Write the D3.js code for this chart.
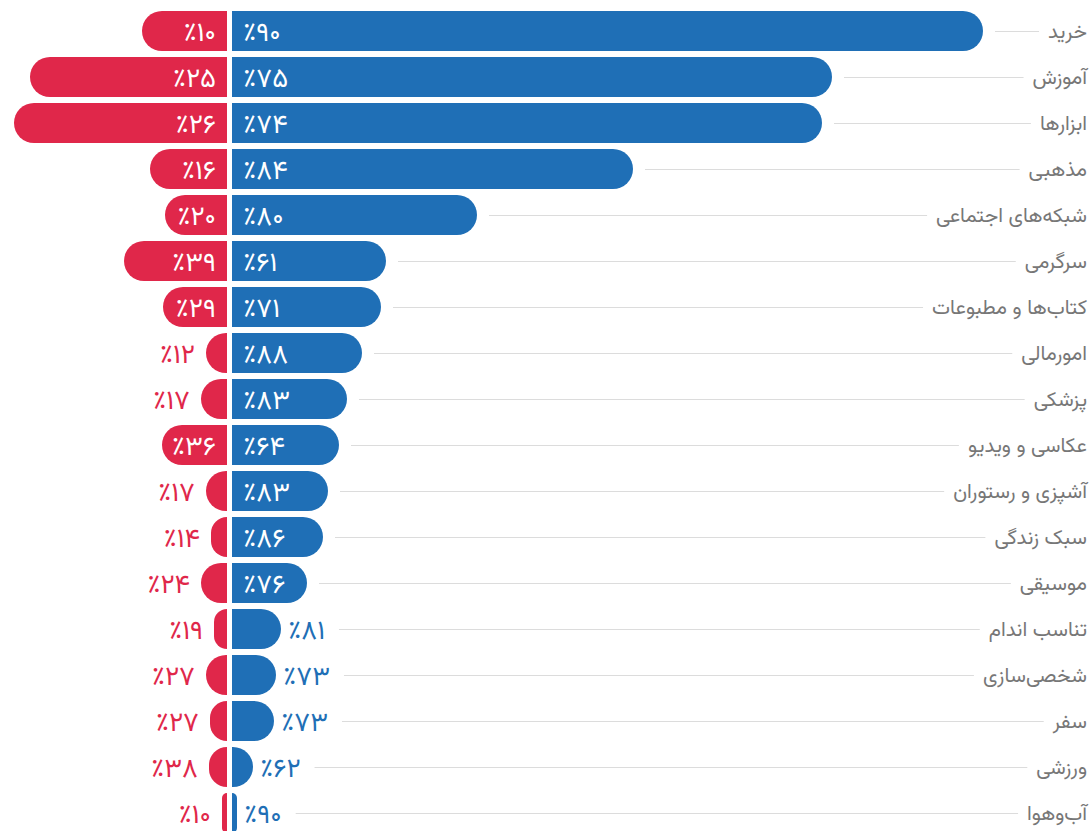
<!DOCTYPE html>
<html>
<head>
<meta charset="utf-8">
<script src="https://cdn.jsdelivr.net/npm/d3@7"></script>
<style>
  html, body { margin: 0; padding: 0; background: #fff; }
  svg { display: block; }
  text { font-family: Vazirmatn, "DejaVu Sans", sans-serif; }
</style>
</head>
<body>
<svg id="chart" width="1090" height="831"></svg>
<script>
const categories = ["خرید","آموزش","ابزارها","مذهبی","شبکه‌های اجتماعی","سرگرمی","کتاب‌ها و مطبوعات","امورمالی","پزشکی","عکاسی و ویدیو","آشپزی و رستوران","سبک زندگی","موسیقی","تناسب اندام","شخصی‌سازی","سفر","ورزشی","آب‌وهوا"];
const bluePct = [90,75,74,84,80,61,71,88,83,64,83,86,76,81,73,73,62,90];
const redPct  = [10,25,26,16,20,39,29,12,17,36,17,14,24,19,27,27,38,10];
const blueValues = [751,600,590,401,245,154,149,130,115,107,96,91,75,49,44,42,21,5];
const redValues  = [85,197,213,77,62,103,64,21,26,65,21,16,26,13,21,17,18,5];

const BLUE = "#1f6fb6", RED = "#e0274a", GRAY = "#777777", GRID = "#dcdcdc";
const svg = d3.select("#chart");
const blueX0 = 232, redX0 = 227, labelRight = 1087;

const x = d3.scaleLinear().domain([0, d3.max(blueValues)]).range([0, 751]);
const y = d3.scaleBand().domain(categories).range([11, 833]).paddingInner(6/46).paddingOuter(0);
const h = y.bandwidth();
const fa = n => "٪" + String(n).replace(/\d/g, d => "۰۱۲۳۴۵۶۷۸۹"[d]);

const rows = categories.map((c, i) => ({c, bp: bluePct[i], rp: redPct[i], bv: blueValues[i], rv: redValues[i]}));

function barPath(x0, w, y0, dir) {
  const r = Math.min(h/2, w);
  const xe = x0 + dir * w;
  const sweep = dir > 0 ? 1 : 0;
  return `M${x0},${y0} H${xe - dir*r} A${r},${r} 0 0 ${sweep} ${xe},${y0 + r} V${y0 + h - r} A${r},${r} 0 0 ${sweep} ${xe - dir*r},${y0 + h} H${x0} Z`;
}

const g = svg.append("g");
rows.forEach(d => {
  const y0 = y(d.c), yc = y0 + h/2;
  const bw = x(d.bv), rw = x(d.rv);
  const row = g.append("g");

  const lab = row.append("text")
    .attr("x", labelRight).attr("y", yc).attr("dy", "0.35em")
    .attr("text-anchor", "end").attr("fill", GRAY)
    .style("font-size", "20.5px").text(d.c);
  const lw = lab.node().getComputedTextLength();

  row.append("path").attr("d", barPath(blueX0, bw, y0, 1)).attr("fill", BLUE);
  row.append("path").attr("d", barPath(redX0, rw, y0, -1)).attr("fill", RED);

  const inB = bw > 60, inR = rw > 55;
  const bt = row.append("text")
    .attr("x", inB ? blueX0 + 11 : blueX0 + bw + 7)
    .attr("y", yc).attr("dy", "0.36em")
    .attr("text-anchor", "start")
    .attr("fill", inB ? "#fff" : BLUE)
    .style("font-size", "27px").text(fa(d.bp));
  row.append("text")
    .attr("x", inR ? redX0 - 11 : redX0 - rw - 11)
    .attr("y", yc).attr("dy", "0.36em")
    .attr("text-anchor", "end")
    .attr("fill", inR ? "#fff" : RED)
    .style("font-size", "27px").text(fa(d.rp));

  const lineStart = inB ? blueX0 + bw + 12 : blueX0 + bw + 7 + bt.node().getComputedTextLength() + 14;
  const lineEnd = labelRight - lw - 9;
  if (lineEnd > lineStart) {
    row.insert("line", ":first-child")
      .attr("x1", lineStart).attr("x2", lineEnd)
      .attr("y1", yc + 0.5).attr("y2", yc + 0.5)
      .attr("stroke", GRID).attr("stroke-width", 1);
  }
});
</script>
</body>
</html>
